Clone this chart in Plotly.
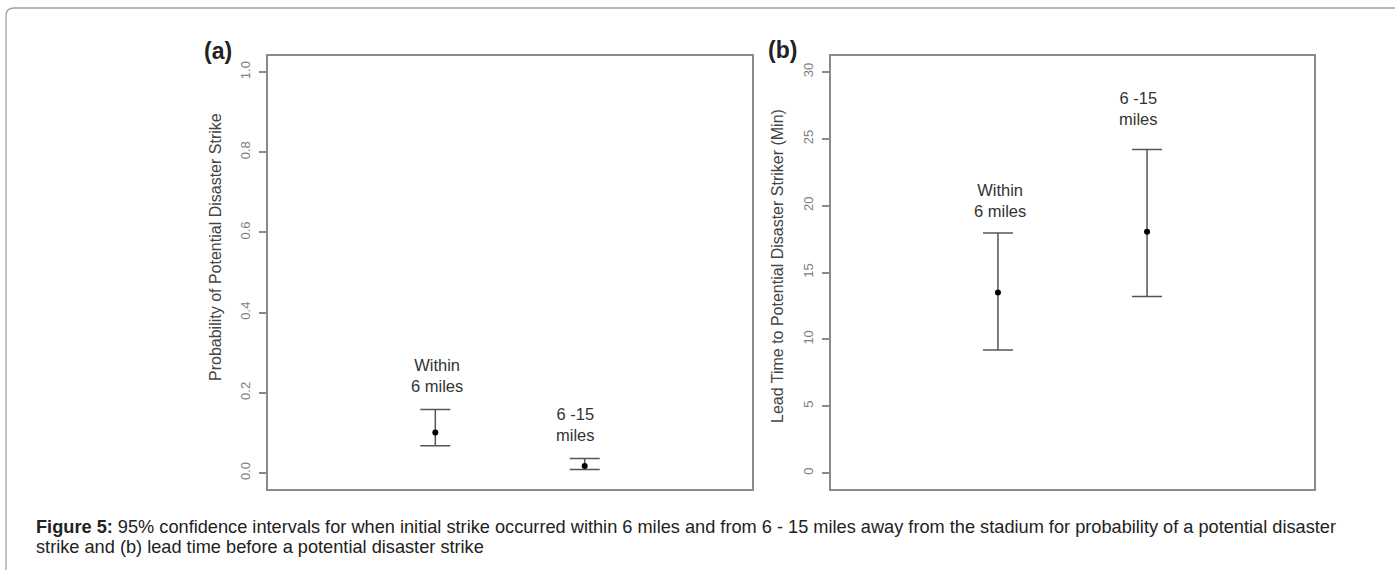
import plotly.graph_objects as go

# ---- data ----
categories = ["Within<br>6 miles", "6 -15<br>miles"]
x_pos = [1, 2]
prob_est = [0.101, 0.0175]
prob_lo = [0.068, 0.0085]
prob_hi = [0.158, 0.036]
lead_est = [13.5, 18.05]
lead_lo = [9.2, 13.2]
lead_hi = [17.95, 24.2]
prob_ticks = [0.0, 0.2, 0.4, 0.6, 0.8, 1.0]
prob_ticklabels = ["0.0", "0.2", "0.4", "0.6", "0.8", "1.0"]
lead_ticks = [0, 5, 10, 15, 20, 25, 30]
lead_ticklabels = ["0", "5", "10", "15", "20", "25", "30"]
ylabel_a = "Probability of Potential Disaster Strike"
ylabel_b = "Lead Time to Potential Disaster Striker (Min)"
caption_line1 = ("<b>Figure 5:</b> 95% confidence intervals for when initial strike occurred within 6 miles and from 6 - 15 miles away "
                 "from the stadium for probability of a potential disaster")
caption_line2 = "strike and (b) lead time before a potential disaster strike"

# label placement (annotation positions, data units)
label_y_a = [0.244, 0.12]
label_y_b = [20.4, 27.25]
label_xshift = [2, -9]

W, H = 1395, 570
def px(x):
    return x / W
def py(y):
    return 1 - y / H

fig = go.Figure()

bar_color = "#555555"
for xa, ya, est, lo, hi in [("x", "y", prob_est, prob_lo, prob_hi),
                            ("x2", "y2", lead_est, lead_lo, lead_hi)]:
    fig.add_trace(go.Scatter(
        x=x_pos, y=est, xaxis=xa, yaxis=ya, mode="markers",
        marker=dict(color="black", size=6),
        error_y=dict(type="data", symmetric=False,
                     array=[h - e for h, e in zip(hi, est)],
                     arrayminus=[e - l for e, l in zip(est, lo)],
                     color=bar_color, thickness=1.5, width=15),
        showlegend=False, hoverinfo="skip"))

axis_line = "#8a8a8a"
common_x = dict(range=[-0.12, 3.12], showticklabels=False, ticks="", showgrid=False,
                zeroline=False, showline=True, mirror=True, linecolor=axis_line, linewidth=2)
common_y = dict(showgrid=False, zeroline=False, showline=True, mirror=True,
                linecolor=axis_line, linewidth=2, ticks="outside", ticklen=7,
                tickcolor=axis_line, tickwidth=1.5, tickangle=-90,
                tickfont=dict(family="Liberation Sans", size=13, color="#808080"),
                ticklabelstandoff=4)

ydom = [py(489), py(56)]
fig.update_layout(
    width=W, height=H, margin=dict(l=0, r=0, t=0, b=0),
    paper_bgcolor="white", plot_bgcolor="white",
    xaxis=dict(domain=[px(268), px(752)], anchor="y", **common_x),
    yaxis=dict(domain=ydom, anchor="x", range=[-0.04, 1.04],
               tickvals=prob_ticks, ticktext=prob_ticklabels, **common_y),
    xaxis2=dict(domain=[px(831), px(1314)], anchor="y2", **common_x),
    yaxis2=dict(domain=ydom, anchor="x2", range=[-1.2, 31.2],
                tickvals=lead_ticks, ticktext=lead_ticklabels, **common_y),
)

label_font = dict(family="Liberation Sans", size=16.5, color="#333333")
for i, cat in enumerate(categories):
    fig.add_annotation(x=x_pos[i], y=label_y_a[i], xref="x", yref="y", text=cat,
                       showarrow=False, font=label_font, xshift=label_xshift[i])
    fig.add_annotation(x=x_pos[i], y=label_y_b[i], xref="x2", yref="y2", text=cat,
                       showarrow=False, font=label_font, xshift=label_xshift[i])

title_font = dict(family="Liberation Sans", size=16, color="#444444")
fig.add_annotation(x=px(215), y=py(247), xref="paper", yref="paper", text=ylabel_a,
                   textangle=-90, showarrow=False, font=title_font,
                   xanchor="center", yanchor="middle")
fig.add_annotation(x=px(777), y=py(266), xref="paper", yref="paper", text=ylabel_b,
                   textangle=-90, showarrow=False, font=title_font,
                   xanchor="center", yanchor="middle")

panel_font = dict(family="Liberation Sans", size=23, color="#222222")
fig.add_annotation(x=px(218), y=py(51), xref="paper", yref="paper", text="<b>(a)</b>",
                   showarrow=False, font=panel_font, xanchor="center", yanchor="middle")
fig.add_annotation(x=px(782), y=py(50), xref="paper", yref="paper", text="<b>(b)</b>",
                   showarrow=False, font=panel_font, xanchor="center", yanchor="middle")

cap_font = dict(family="Liberation Sans", size=18.2, color="#222222")
fig.add_annotation(x=px(34), y=py(527), xref="paper", yref="paper", text=caption_line1,
                   showarrow=False, xanchor="left", yanchor="middle", align="left", font=cap_font)
fig.add_annotation(x=px(34), y=py(547), xref="paper", yref="paper", text=caption_line2,
                   showarrow=False, xanchor="left", yanchor="middle", align="left", font=cap_font)

# outer frame (rounded top-left corner)
path = (f"M {px(6)},{py(575)} L {px(6)},{py(16)} "
        f"Q {px(6)},{py(8)} {px(14)},{py(8)} L {px(1400)},{py(8)}")
fig.add_shape(type="path", path=path, xref="paper", yref="paper",
              line=dict(color="#a0a0a0", width=1.3))

fig.write_html("out.html", config={"displayModeBar": False},
               post_script="document.body.style.margin='0px';document.body.style.overflow='hidden';")
